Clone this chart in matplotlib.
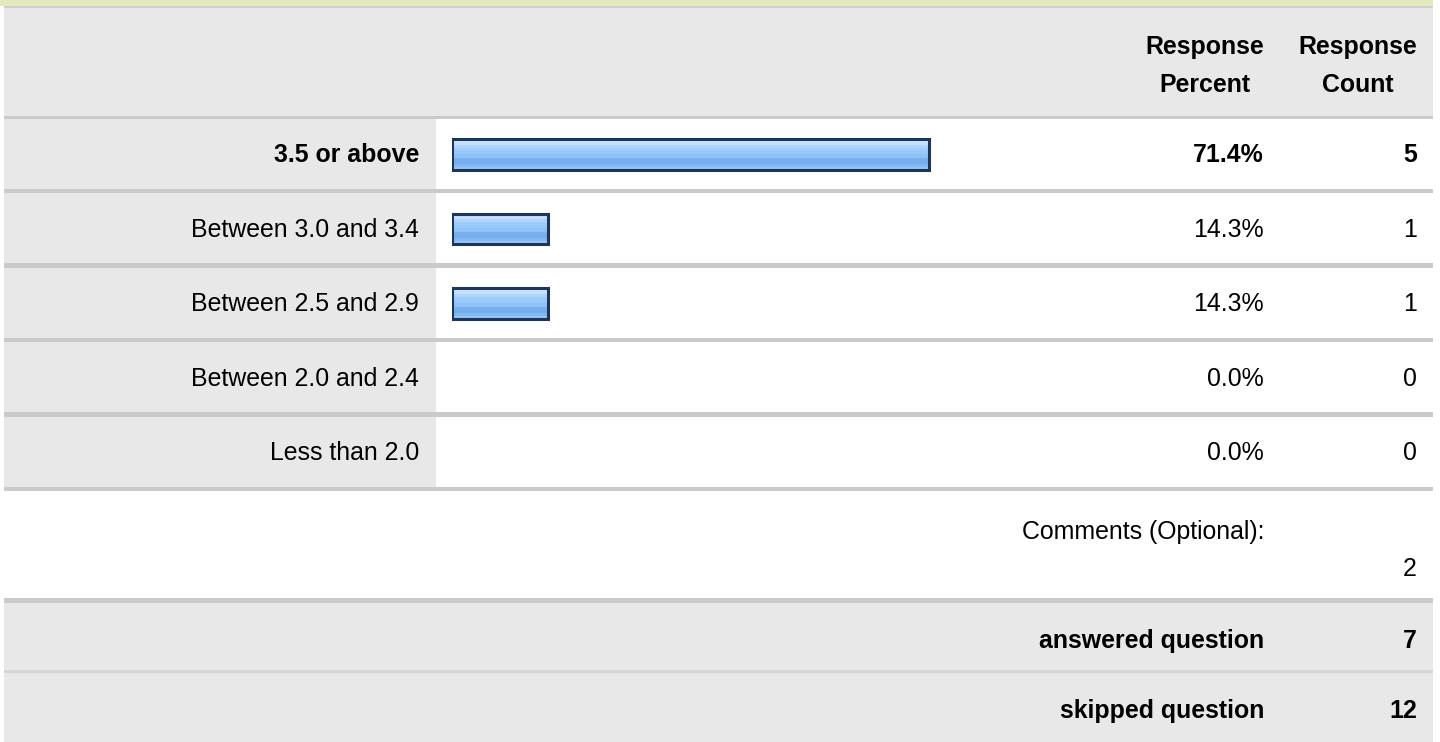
import matplotlib.pyplot as plt
import matplotlib.patches as mpatches
import numpy as np

# Survey data
categories = ['3.5 or above', 'Between 3.0 and 3.4', 'Between 2.5 and 2.9',
              'Between 2.0 and 2.4', 'Less than 2.0']
percents = [71.4, 14.3, 14.3, 0.0, 0.0]
counts = [5, 1, 1, 0, 0]
comments_count = 2
answered = 7
skipped = 12

plt.rcParams['font.family'] = ['Liberation Sans', 'DejaVu Sans']
FS = 17.9

fig = plt.figure(figsize=(14.4, 7.42), dpi=100)

# background axes in pixel coordinates
bg = fig.add_axes([0, 0, 1, 1])
bg.set_xlim(0, 1440)
bg.set_ylim(742, 0)
bg.axis('off')

GRAY = '#e8e8e8'
LINE = '#cacaca'
L, R = 4, 1433


def band(y0, y1, color, x0=L, x1=R):
    bg.add_patch(mpatches.Rectangle((x0, y0), x1 - x0, y1 - y0, color=color, lw=0))


# top strip and header
band(0, 6, '#e4eabb', 0, R)
band(6, 8, '#d0d0d0')
band(8, 116, GRAY)
band(116, 119, LINE)

# answer rows
row_top = 119
row_h = 74.4
for i in range(len(categories)):
    y0 = row_top + i * row_h
    band(y0, y0 + row_h - 4.5, GRAY, L, 436)
    band(y0 + row_h - 4.5, y0 + row_h, LINE)

# comments row, totals
band(598, 603, LINE)
band(603, 670, GRAY)
band(670, 673, '#d6d6d6')
band(673, 742, GRAY)

# header text
bg.text(1205, 47, 'Response', ha='center', va='center', fontsize=FS, fontweight='bold')
bg.text(1205, 85, 'Percent', ha='center', va='center', fontsize=FS, fontweight='bold')
bg.text(1358, 47, 'Response', ha='center', va='center', fontsize=FS, fontweight='bold')
bg.text(1358, 85, 'Count', ha='center', va='center', fontsize=FS, fontweight='bold')

top_idx = int(np.argmax(counts))
for i, (cat, p, c) in enumerate(zip(categories, percents, counts)):
    yc = row_top + i * row_h + (row_h - 4.5) / 2 + 1.5
    w = 'bold' if i == top_idx else 'normal'
    bg.text(419, yc, cat, ha='right', va='center', fontsize=FS, fontweight=w)
    bg.text(1264, yc, f'{p:.1f}%', ha='right', va='center', fontsize=FS, fontweight=w)
    bg.text(1417, yc, str(c), ha='right', va='center', fontsize=FS, fontweight=w)

bg.text(1264, 532, 'Comments (Optional):', ha='right', va='center', fontsize=FS)
bg.text(1417, 569, str(comments_count), ha='right', va='center', fontsize=FS)
bg.text(1264, 641, 'answered question', ha='right', va='center', fontsize=FS, fontweight='bold')
bg.text(1417, 641, str(answered), ha='right', va='center', fontsize=FS, fontweight='bold')
bg.text(1264, 711, 'skipped question', ha='right', va='center', fontsize=FS, fontweight='bold')
bg.text(1417, 711, str(skipped), ha='right', va='center', fontsize=FS, fontweight='bold')

# bar axes: 0-100% over the bar column
bx0, bx1 = 452, 1120
by0, by1 = row_top, row_top + row_h * len(categories)
ax = fig.add_axes([bx0 / 1440, 1 - by1 / 742, (bx1 - bx0) / 1440, (by1 - by0) / 742])
ax.set_xlim(0, 100)
ax.set_ylim(len(categories) - 0.5, -0.5)
ax.axis('off')
ax.patch.set_alpha(0)

ypos = np.arange(len(categories)) - 0.02
bars = ax.barh(ypos, percents, height=0.41, left=0, color='none',
               edgecolor='#1c355a', linewidth=2.2, zorder=3)

# glossy vertical gradient inside each bar
grad = np.array([0.84, 0.80, 0.72, 0.66, 0.64, 0.60, 0.50, 0.48, 0.54, 0.62]).reshape(-1, 1)
cmap = plt.matplotlib.colors.LinearSegmentedColormap.from_list(
    'gloss', ['#6fa9ec', '#9ccbfb', '#d3e8fd'])
for b in bars:
    if b.get_width() <= 0:
        b.set_visible(False)
        continue
    x0, y0 = b.get_x(), b.get_y()
    im = ax.imshow(grad, cmap=cmap, vmin=0.45, vmax=0.85, aspect='auto',
                   extent=(x0, x0 + b.get_width(), y0 + b.get_height(), y0),
                   zorder=2, interpolation='nearest')
    im.set_clip_path(b)
ax.set_xlim(0, 100)
ax.set_ylim(len(categories) - 0.5, -0.5)

fig.savefig('out.png', dpi=100)
